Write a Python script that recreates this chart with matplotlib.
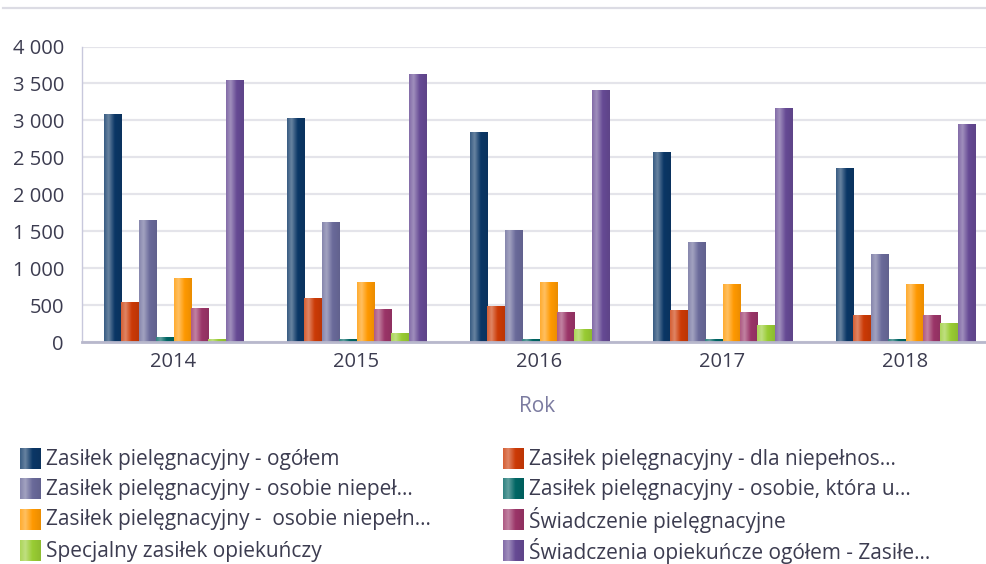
import numpy as np
import matplotlib
matplotlib.use('Agg')
import matplotlib.pyplot as plt
from matplotlib.ticker import FuncFormatter

plt.rcParams['font.family'] = ['Open Sans', 'DejaVu Sans']

years = ['2014', '2015', '2016', '2017', '2018']
series = [
    'Zasiłek pielęgnacyjny - ogółem',
    'Zasiłek pielęgnacyjny - dla niepełnos...',
    'Zasiłek pielęgnacyjny - osobie niepeł...',
    'Zasiłek pielęgnacyjny - osobie, która u...',
    'Zasiłek pielęgnacyjny -  osobie niepełn...',
    'Świadczenie pielęgnacyjne',
    'Specjalny zasiłek opiekuńczy',
    'Świadczenia opiekuńcze ogółem - Zasiłe...',
]
ogolem = [3080, 3020, 2835, 2565, 2350]
dla_niepelnosprawnego = [530, 585, 475, 420, 365]
osobie_niepelnosprawnej = [1640, 1615, 1505, 1345, 1180]
osobie_ktora = [60, 35, 35, 35, 35]
osobie_niepelnosprawnej_2 = [855, 800, 800, 775, 775]
swiadczenie_pielegnacyjne = [450, 445, 395, 395, 365]
specjalny_zasilek = [35, 120, 175, 230, 255]
swiadczenia_ogolem = [3540, 3620, 3400, 3160, 2945]
values = [ogolem, dla_niepelnosprawnego, osobie_niepelnosprawnej, osobie_ktora,
          osobie_niepelnosprawnej_2, swiadczenie_pielegnacyjne, specjalny_zasilek,
          swiadczenia_ogolem]

colors = ['#0b3766', '#cc3a06', '#6a6a9a', '#006664',
          '#ff9900', '#9b3568', '#99cc33', '#664a94']

TEXT = '#3c3c50'


def gradient(hex_color, n=40):
    # horizontal shading: light stripe on the left, base colour on the right
    base = np.array(matplotlib.colors.to_rgb(hex_color))
    light = base + (1 - base) * 0.38
    t = np.linspace(0, 1, n)
    f = np.interp(t, [0, 0.25, 0.6, 1], [0.5, 1.0, 0.0, 0.0])
    rgb = base[None, :] * (1 - f[:, None]) + light[None, :] * f[:, None]
    dark = np.interp(t, [0, 0.6, 1], [1, 1, 0.92])
    return (rgb * dark[:, None])[None, :, :]


W, H = 987, 564
fig = plt.figure(figsize=(W / 100, H / 100), dpi=100)

# axes in pixel terms: x 82..997, y 46.5..342
ax = fig.add_axes([82 / W, (H - 342) / H, 915 / W, 295.5 / H])
x = np.arange(len(years))
w = 0.095
for i, (vals, col) in enumerate(zip(values, colors)):
    g = gradient(col)
    for xi, v in zip(x, vals):
        left = xi + (i - 3.5) * w - w / 2
        ax.imshow(g, extent=[left, left + w, 0, v], aspect='auto', zorder=3,
                  interpolation='bilinear')

ax.set_xlim(-0.5, len(years) - 0.5)
ax.set_ylim(0, 4000)
ax.set_yticks(np.arange(0, 4001, 500))
ax.yaxis.set_major_formatter(FuncFormatter(lambda v, p: f'{int(v):,}'.replace(',', ' ')))
ax.set_xticks(x)
ax.set_xticklabels(years)
ax.grid(axis='y', color='#e4e4ea', linewidth=1.6, zorder=0)
ax.set_axisbelow(True)
for s in ['top', 'right']:
    ax.spines[s].set_visible(False)
ax.spines['left'].set_color('#c8c8dc')
ax.spines['left'].set_linewidth(1)
ax.spines['bottom'].set_color('#b8b8cc')
ax.spines['bottom'].set_linewidth(2)
ax.spines['bottom'].set_zorder(4)
ax.tick_params(axis='both', length=0, labelsize=14.5, colors=TEXT)
ax.tick_params(axis='y', pad=13)
ax.tick_params(axis='x', pad=7)

# x axis title
fig.text(537 / W, 1 - 406 / H, 'Rok', ha='center', va='center', fontsize=15, color='#7b7ba0')

# overlay in pixel coordinates for the top rule and the legend
ov = fig.add_axes([0, 0, 1, 1], zorder=-1)
ov.set_xlim(0, W)
ov.set_ylim(H, 0)
ov.axis('off')
ov.plot([3, W], [8, 8], color='#dcdce4', linewidth=1.6)

lg = fig.add_axes([0, 0, 1, 1])
lg.set_xlim(0, W)
lg.set_ylim(H, 0)
lg.axis('off')
col_x = [20, 503]
row_y = [459, 489, 520, 551]
for k, (name, col) in enumerate(zip(series, colors)):
    cx = col_x[k % 2]
    cy = row_y[k // 2]
    lg.imshow(gradient(col), extent=[cx, cx + 21, cy + 10.5, cy - 10.5], aspect='auto',
              interpolation='bilinear')
    lg.text(cx + 26, cy, name, ha='left', va='center', fontsize=15, color=TEXT)
lg.set_xlim(0, W)
lg.set_ylim(H, 0)

fig.savefig('out.png', dpi=100)
